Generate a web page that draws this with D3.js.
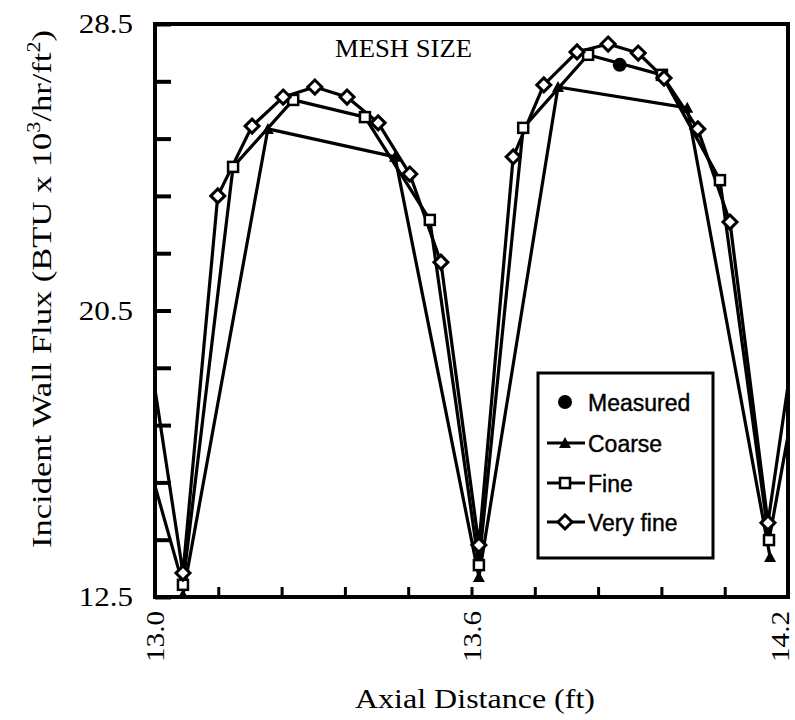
<!DOCTYPE html>
<meta charset="utf-8">
<style>
  body { margin: 0; background: #fff; }
  .serif { font-family: "Liberation Serif", "Times New Roman", serif; fill: #000; }
  .sans { font-family: "Liberation Sans", Arial, sans-serif; fill: #000; stroke: #000; stroke-width: 0.4px; }
  .series path { fill: none; stroke: #000; stroke-width: 3.2px; stroke-linejoin: round; }
</style>
<svg width="795" height="720"></svg>
<script src="https://d3js.org/d3.v7.min.js"></script>
<script>

  // axis ticks
  var xTicks = [13.0, 13.12, 13.24, 13.36, 13.48, 13.6, 13.72, 13.84, 13.96, 14.08, 14.2];
  var yTicks = [12.5, 14.1, 15.7, 17.3, 18.9, 20.5, 22.1, 23.7, 25.3, 26.9, 28.5];
  var xLabels = [13.0, 13.6, 14.2];
  var yLabels = [12.5, 20.5, 28.5];

  // series (ft, BTU x 10^3/hr/ft^2)
  var veryFineX = [13.0, 13.053, 13.119, 13.184, 13.243, 13.303, 13.364, 13.423, 13.483, 13.542, 13.614,
                   13.679, 13.737, 13.800, 13.859, 13.916, 13.965, 14.029, 14.090, 14.162, 14.2];
  var veryFineY = [18.3, 13.17, 23.70, 25.65, 26.46, 26.74, 26.46, 25.74, 24.31, 21.85, 13.95,
                   24.79, 26.80, 27.72, 27.94, 27.69, 26.99, 25.57, 22.97, 14.57, 18.4];

  var fineX = [13.0, 13.053, 13.148, 13.262, 13.398, 13.521, 13.614, 13.698, 13.821, 13.961, 14.071, 14.164, 14.2];
  var fineY = [15.6, 12.84, 24.51, 26.38, 25.90, 23.03, 13.39, 25.60, 27.64, 27.08, 24.14, 14.09, 17.0];

  var coarseX = [13.053, 13.214, 13.455, 13.614, 13.764, 14.009, 14.166];
  var coarseY = [12.56, 25.57, 24.79, 13.06, 26.74, 26.16, 13.62];

  var measuredX = [13.881];
  var measuredY = [27.36];

  var legendNames = ["Measured", "Coarse", "Fine", "Very  fine"];

  var svg = d3.select("svg");
  var margin = {left: 155, top: 24, right: 7, bottom: 123};
  var width = 795 - margin.left - margin.right,
      height = 720 - margin.top - margin.bottom;

  var x = d3.scaleLinear().domain([13.0, 14.2]).range([0, width]);
  var y = d3.scaleLinear().domain([12.5, 28.5]).range([height, 0]);

  var g = svg.append("g").attr("transform", "translate(" + margin.left + "," + margin.top + ")");

  g.append("clipPath").attr("id", "plot")
    .append("rect").attr("width", width).attr("height", height);

  function zip(xs, ys) { return xs.map(function(v, i) { return {x: v, y: ys[i]}; }); }
  function inside(d) { return d.x > 13.0 && d.x < 14.2; }

  var line = d3.line().x(function(d) { return x(d.x); }).y(function(d) { return y(d.y); });

  var series = [
    {name: "coarse", pts: zip(coarseX, coarseY), marker: "triangle"},
    {name: "fine", pts: zip(fineX, fineY), marker: "square"},
    {name: "veryfine", pts: zip(veryFineX, veryFineY), marker: "diamond"}
  ];

  var plot = g.append("g").attr("clip-path", "url(#plot)");

  series.forEach(function(s) {
    plot.append("g").attr("class", "series").append("path").attr("d", line(s.pts));
  });

  function drawMarker(sel, type) {
    if (type == "diamond") {
      sel.append("path").attr("d", "M0,-7L7,0L0,7L-7,0Z")
        .attr("fill", "#fff").attr("stroke", "#000").attr("stroke-width", 3);
    } else if (type == "square") {
      sel.append("rect").attr("x", -5).attr("y", -5).attr("width", 10).attr("height", 10)
        .attr("fill", "#fff").attr("stroke", "#000").attr("stroke-width", 2.5);
    } else if (type == "triangle") {
      sel.append("path").attr("d", "M0,-6L6,5L-6,5Z").attr("fill", "#000");
    } else {
      sel.append("circle").attr("r", 7).attr("fill", "#000");
    }
  }

  series.forEach(function(s) {
    plot.append("g").selectAll("g")
      .data(s.pts.filter(inside))
      .enter().append("g")
      .attr("transform", function(d) { return "translate(" + x(d.x) + "," + y(d.y) + ")"; })
      .each(function() { drawMarker(d3.select(this), s.marker); });
  });

  plot.append("g").selectAll("g")
    .data(zip(measuredX, measuredY))
    .enter().append("g")
    .attr("transform", function(d) { return "translate(" + x(d.x) + "," + y(d.y) + ")"; })
    .each(function() { drawMarker(d3.select(this), "circle"); });

  // axes, ticks pointing inward
  var yAxis = d3.axisLeft(y).tickValues(yTicks).tickSizeInner(-16).tickSizeOuter(0).tickPadding(22)
    .tickFormat(function(d) { return yLabels.indexOf(d) >= 0 ? d.toFixed(1) : ""; });
  var xAxis = d3.axisBottom(x).tickValues(xTicks).tickSizeInner(-10).tickSizeOuter(0).tickPadding(14)
    .tickFormat(function(d) { return xLabels.indexOf(d) >= 0 ? d.toFixed(1) : ""; });

  var ya = g.append("g").call(yAxis);
  ya.select(".domain").remove();
  ya.selectAll(".tick line").attr("stroke", "#000").attr("stroke-width", 4);
  ya.selectAll(".tick text").attr("class", "serif").style("font-size", "27px")
    .attr("transform", "scale(1.15,1)").attr("x", -22 / 1.15);

  var xa = g.append("g").attr("transform", "translate(0," + height + ")").call(xAxis);
  xa.select(".domain").remove();
  xa.selectAll(".tick line").attr("stroke", "#000").attr("stroke-width", 3);
  // keep the last label inside the page, as in the figure
  xa.selectAll(".tick text").attr("class", "serif").style("font-size", "26px")
    .attr("text-anchor", "end").attr("x", 0).attr("y", 0).attr("dy", "0.33em")
    .attr("transform", function(d) {
      var shift = d >= 14.2 ? -8 : 0;
      return "translate(" + shift + ",14) rotate(-90) scale(1.12,1)";
    });

  // frame
  g.append("rect").attr("width", width).attr("height", height)
    .attr("fill", "none").attr("stroke", "#000").attr("stroke-width", 4);

  // titles
  g.append("text").attr("class", "serif")
    .attr("x", 180).attr("y", 33)
    .style("font-size", "26px").attr("textLength", 137).attr("lengthAdjust", "spacingAndGlyphs")
    .text("MESH SIZE");

  svg.append("text").attr("class", "serif")
    .attr("x", 475).attr("y", 708).attr("text-anchor", "middle")
    .style("font-size", "28px").attr("textLength", 240).attr("lengthAdjust", "spacingAndGlyphs")
    .text("Axial Distance (ft)");

  var yt = svg.append("text").attr("class", "serif")
    .attr("transform", "translate(51,289) rotate(-90)").attr("text-anchor", "middle")
    .style("font-size", "28px").attr("textLength", 518).attr("lengthAdjust", "spacingAndGlyphs");
  yt.append("tspan").text("Incident Wall Flux (BTU x 10");
  yt.append("tspan").attr("dy", -11).style("font-size", "18px").text("3");
  yt.append("tspan").attr("dy", 11).text("/hr/ft");
  yt.append("tspan").attr("dy", -11).style("font-size", "18px").text("2");
  yt.append("tspan").attr("dy", 11).text(")");

  // legend
  var lg = svg.append("g").attr("transform", "translate(538,373)");
  lg.append("rect").attr("width", 175).attr("height", 185)
    .attr("fill", "#fff").attr("stroke", "#000").attr("stroke-width", 3);
  var legendMarkers = ["circle", "triangle", "square", "diamond"];
  var legendRows = [29, 70, 110, 149];
  legendNames.forEach(function(name, i) {
    var row = lg.append("g").attr("transform", "translate(0," + legendRows[i] + ")");
    if (i > 0) {
      row.append("line").attr("x1", 9).attr("x2", 47).attr("stroke", "#000").attr("stroke-width", 3);
    }
    var m = row.append("g").attr("transform", "translate(27,0)");
    drawMarker(m, legendMarkers[i]);
    row.append("text").attr("class", "sans").attr("x", 50).attr("y", 9)
      .style("font-size", "23px").text(name);
  });

</script>
